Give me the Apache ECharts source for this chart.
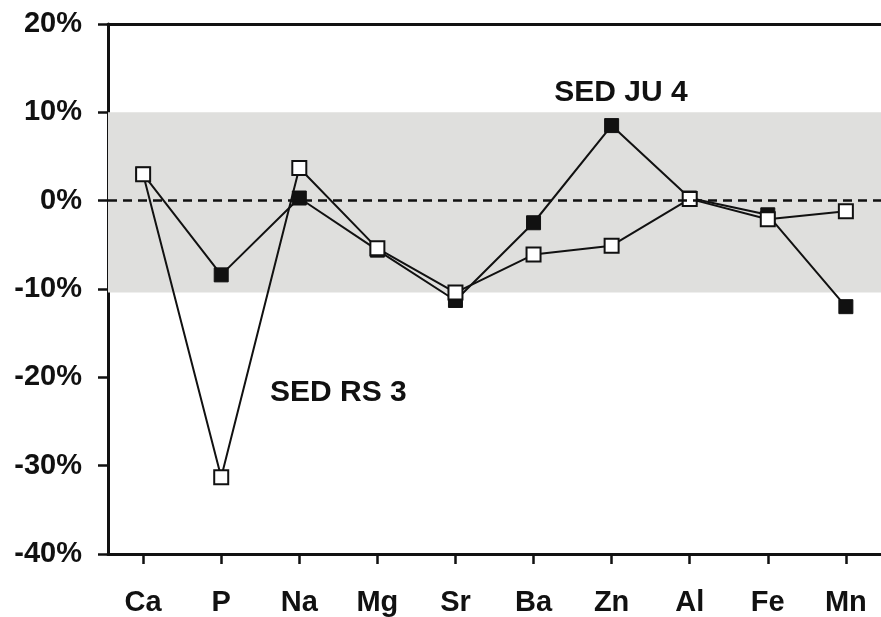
<!DOCTYPE html>
<html>
<head>
<meta charset="utf-8">
<script src="https://cdn.jsdelivr.net/npm/echarts@6/dist/echarts.min.js"></script>
<style>
html,body{margin:0;padding:0;background:#fff;}
#chart{width:881px;height:617px;}
</style>
</head>
<body>
<div id="chart"></div>
<script>
var categories = ['Ca','P','Na','Mg','Sr','Ba','Zn','Al','Fe','Mn'];
var sedJU4 = [3.0, -8.4, 0.3, -5.6, -11.3, -2.5, 8.5, 0.3, -1.6, -12.0];
var sedRS3 = [3.0, -31.3, 3.7, -5.4, -10.4, -6.1, -5.1, 0.2, -2.1, -1.2];
var yTicks = [-40, -30, -20, -10, 0, 10, 20];
var bandRange = [-10.4, 10];
var annotations = [
  {name: 'SED JU 4', x: 6.12, y: 12.2},
  {name: 'SED RS 3', x: 2.5, y: -21.7}
];

var font = '"Liberation Sans", Arial, sans-serif';
var xIdx = categories.map(function(_, i){ return i; });
function pairs(arr){ return arr.map(function(v, i){ return [i, v]; }); }

var chart = echarts.init(document.getElementById('chart'), null, {renderer:'canvas'});
chart.setOption({
  animation: false,
  backgroundColor: '#fff',
  grid: {left: 108, right: 0, top: 24, bottom: 63, containLabel: false},
  xAxis: [{
    type: 'value', min: -0.45, max: 9.45,
    axisLine: {show: true, onZero: false, lineStyle: {color: '#111', width: 3}},
    axisTick: {show: true, customValues: xIdx, length: 10, inside: false, lineStyle: {color: '#111', width: 2.5}},
    axisLabel: {show: true, customValues: xIdx, margin: 34,
      formatter: function(v){ return categories[Math.round(v)]; },
      fontFamily: font, fontWeight: 'bold', fontSize: 29, color: '#111'},
    splitLine: {show: false}
  },{
    type: 'value', min: -0.45, max: 9.45, position: 'top',
    axisLine: {show: true, onZero: false, lineStyle: {color: '#111', width: 3}},
    axisTick: {show: false}, axisLabel: {show: false}, splitLine: {show: false}
  }],
  yAxis: {
    type: 'value', min: -40, max: 20, interval: 10,
    axisLine: {show: true, onZero: false, lineStyle: {color: '#111', width: 3}},
    axisTick: {show: true, length: 10, inside: false, lineStyle: {color: '#111', width: 2.5}},
    axisLabel: {margin: 26, formatter: function(v){ return v + '%'; },
      fontFamily: font, fontWeight: 'bold', fontSize: 29, color: '#111'},
    splitLine: {show: false}
  },
  series: [{
    name: 'SED JU 4', type: 'line', data: pairs(sedJU4),
    symbol: 'rect', symbolSize: 14,
    lineStyle: {color: '#111', width: 2},
    itemStyle: {color: '#111', borderColor: '#111', borderWidth: 1},
    z: 3,
    markArea: {silent: true, itemStyle: {color: '#dfdfdd'},
      data: [[{yAxis: bandRange[0]}, {yAxis: bandRange[1]}]]},
    markLine: {silent: true, symbol: 'none', label: {show: false},
      lineStyle: {color: '#111', width: 2.5, type: [9, 6]},
      data: [{yAxis: 0}]}
  },{
    name: 'SED RS 3', type: 'line', data: pairs(sedRS3),
    symbol: 'rect', symbolSize: 14,
    lineStyle: {color: '#111', width: 2},
    itemStyle: {color: '#fff', borderColor: '#111', borderWidth: 2},
    z: 4
  },{
    type: 'scatter', silent: true,
    data: annotations.map(function(a){ return {name: a.name, value: [a.x, a.y]}; }),
    symbolSize: 1, itemStyle: {color: 'transparent', opacity: 1},
    label: {show: true, position: 'inside', formatter: '{b}', opacity: 1,
      fontFamily: font, fontWeight: 'bold', fontSize: 30, color: '#111'},
    z: 5
  }]
});
</script>
</body>
</html>
